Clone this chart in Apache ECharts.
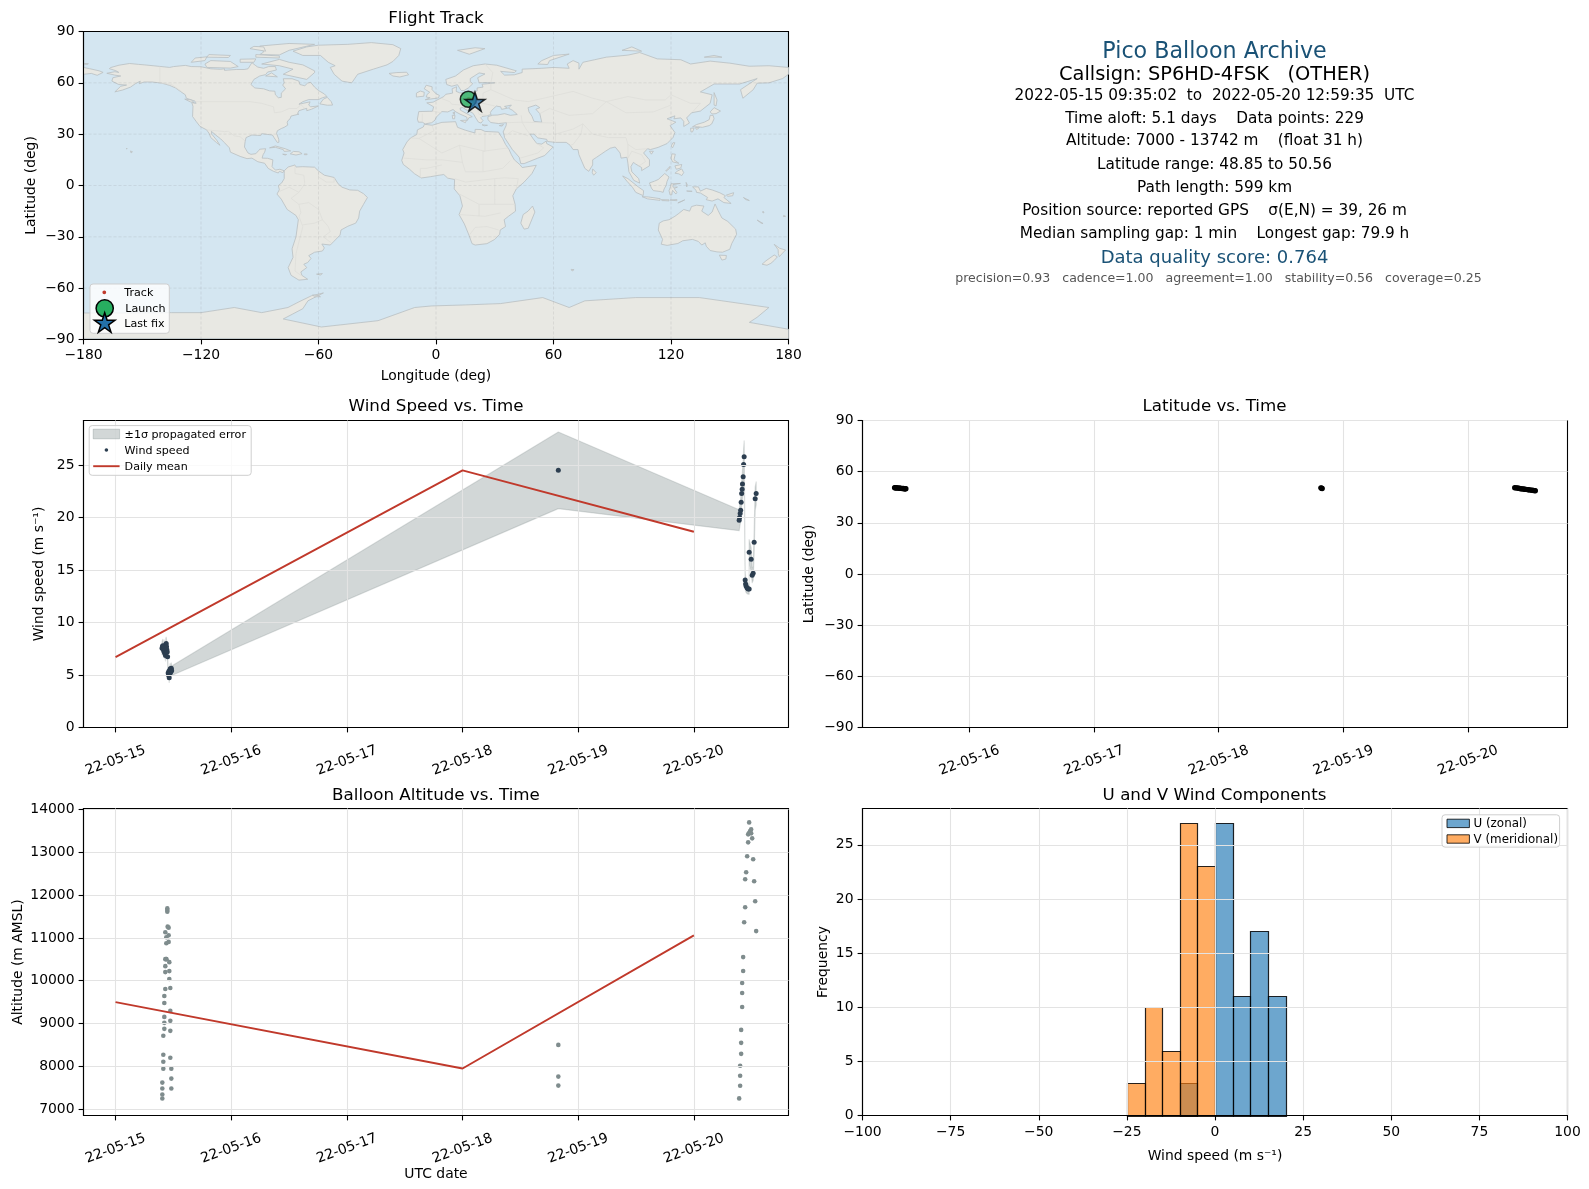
<!DOCTYPE html>
<html><head><meta charset="utf-8">
<style>html,body{margin:0;padding:0;background:#fff}#c{width:1589px;height:1189px}</style>
<script src="https://cdn.jsdelivr.net/npm/echarts@6/dist/echarts.min.js"></script>
</head><body><div id="c"></div>
<script>
// ---------- DATA (days after 2022-05-15 00:00 UTC) ----------
const dateTicks = [0,1,2,3,4,5];
const latDateTicks = [1,2,3,4,5];
const lonTicks = [-180,-120,-60,0,60,120,180];
const degTicks = [-90,-60,-30,0,30,60,90];
const windTicks = [0,5,10,15,20,25];
const altTicks = [7000,8000,9000,10000,11000,12000,13000,14000];
const histXTicks = [-100,-75,-50,-25,0,25,50,75,100];
const histYTicks = [0,5,10,15,20,25];

const windDays = [.402,.405,.408,.411,.414,.417,.42,.423,.426,.429,.432,.435,.438,.441,.444,.447,.45,.455,.458,.461,.464,.467,.47,.473,.476,.479,.482,.485,
 3.828,
 5.3915,5.395,5.4,5.4045,5.4087,5.413,5.4174,5.42,5.426,5.43,5.4346,5.4433,5.447,5.452,5.4606,5.4692,5.4779,5.4779,5.495,5.504,5.5125,5.521,5.53,5.5385];
const windVals = [7.55,7.7,7.8,7.6,7.45,7.3,7.75,7.2,7.05,7.35,6.85,7.9,8.0,7.7,7.4,7.2,6.75,5.2,5.0,5.35,4.75,5.1,5.45,5.6,5.25,5.55,5.65,5.4,
 24.5,
 19.75,20.0,20.4,20.7,21.46,22.3,22.7,23.2,23.9,25.06,25.8,14.05,13.67,13.45,13.3,13.2,13.2,16.7,16.04,14.5,14.7,17.66,21.8,22.3];
const windErr = [.6,.6,.6,.55,.55,.55,.6,.5,.5,.5,.5,.6,.6,.6,.55,.5,.5,.45,.45,.45,.45,.45,.5,.5,.45,.5,.5,.45,
 3.65,
 1,1,1.05,1.1,1.15,1.15,1.2,1.3,1.4,1.45,1.5,.75,.7,.6,.55,.5,.5,1.2,1.1,.7,.7,1,1.1,1.1];
const windMeanDays = [0,3,5];
const windMeanVals = [6.7,24.5,18.65];

const altDays = [.4044,.4044,.4044,.4044,.413,.413,.413,.413,.4217,.4217,.4217,.4217,.4217,.4303,.4303,.4303,.4303,.4303,.4389,.4389,.4389,.4389,.4476,.4476,.4476,.4505,.4591,.4591,.4591,.4649,.4649,.4649,.4735,.4735,.4735,.4735,.4735,.4822,.4822,.4822,
 3.828,3.828,3.828,
 5.3915,5.4,5.4,5.4,5.4087,5.4087,5.4087,5.4174,5.4174,5.4174,5.426,5.426,5.4346,5.4433,5.4433,5.452,5.4606,5.4692,5.4692,5.4779,5.4779,5.4865,5.495,5.495,5.504,5.5125,5.521,5.53,5.5385];
const altVals = [7248,7341,7481,7620,8108,7946,8271,8713,9016,8876,9155,9481,9643,10202,10341,9806,10504,11132,11016,10876,10504,10504,11612,11651,11690,11264,11240,11062,10907,10434,10225,10039,9829,9295,9062,8829,8201,7946,7713,7481,
 8500,7760,7550,
 7250,7545,7779,8012,8291,8548,8851,9387,9713,9946,10226,10552,11368,11718,12371,12534,12907,13233,13420,13458,13699,13497,13443,13536,13326,12837,12324,11858,11159];
const altMeanDays = [0,3,5];
const altMeanVals = [9500,7950,11060];

const latDays = [.40,.405,.41,.415,.42,.43,.44,.445,.45,.46,.47,.475,.48,.485,.49,3.82,3.825,3.83,
 5.375,5.385,5.395,5.405,5.415,5.425,5.435,5.445,5.455,5.465,5.475,5.485,5.495,5.505,5.515,5.525,5.535,5.54];
const latVals = [50.56,50.55,50.5,50.5,50.45,50.4,50.3,50.3,50.2,50.1,50.1,50.05,50,50,49.95,50.5,50.3,50.1,
 50.56,50.5,50.4,50.3,50.15,50.0,49.9,49.8,49.7,49.6,49.5,49.4,49.3,49.2,49.1,49.0,48.9,48.85];

const launchLonLat = [16.5,50.4];
const lastFixLonLat = [19.9,49.0];
const trackLon = [16.5,16.9,17.4,18.0,18.6,19.2,19.9];
const trackLat = [50.4,50.3,50.1,50.0,50.3,49.6,49.0];

const histBinEdgesStart = [-25,-20,-15,-10,-5,0,5,10,15];
const histU = [0,0,0,3,0,27,11,17,11];
const histV = [3,10,6,27,23,0,0,0,0];

const infoTitle = 'Pico Balloon Archive';
const infoCall = 'Callsign: SP6HD-4FSK   (OTHER)';
const infoLines = ['2022-05-15 09:35:02  to  2022-05-20 12:59:35  UTC','Time aloft: 5.1 days    Data points: 229','Altitude: 7000 - 13742 m    (float 31 h)','Latitude range: 48.85 to 50.56','Path length: 599 km','Position source: reported GPS    σ(E,N) = 39, 26 m','Median sampling gap: 1 min    Longest gap: 79.9 h'];
const infoScore = 'Data quality score: 0.764';
const infoSub = 'precision=0.93   cadence=1.00   agreement=1.00   stability=0.56   coverage=0.25';

// coastlines, lon/lat
const landPolys = [
// North America
[[-168.1,65.6],[-164,66.5],[-162,66.1],[-163.5,67.1],[-166.8,68.3],[-166.2,68.9],[-161.9,70.3],[-156.5,71.3],[-152,70.8],[-148,70.4],[-141,69.6],[-136,69],[-134,69.5],[-128,70.2],[-125,69.5],[-120,69.4],[-115,68.2],[-110,67.9],[-108,68.2],[-108,67.3],[-102,67.8],[-98,67.8],[-96,68.2],[-94,71.8],[-92,70],[-91,69.2],[-88,68.5],[-85.5,69.5],[-82,69.5],[-81.5,67.5],[-86,66.3],[-87,64.8],[-90,64],[-93,62],[-94.5,59],[-92.5,57],[-88,56.5],[-85,55.3],[-82.3,55.1],[-82,53],[-80.5,51.3],[-79,51.5],[-79,54],[-76.8,56.5],[-78.3,58.7],[-77.5,60],[-78,62.4],[-73.5,62.4],[-70,61],[-69.5,59],[-67,58.3],[-65.5,59.9],[-64,60.3],[-62,57.5],[-60,55.5],[-57,53.5],[-55.7,52],[-58,51.3],[-60,50.2],[-65,50.2],[-68,49],[-70,47.5],[-64.3,48.9],[-65,47],[-64,46],[-60,46.5],[-63.5,44.6],[-66,43.7],[-66,45.1],[-67,44.8],[-70,43.7],[-70.7,42],[-70,41.7],[-74,40.6],[-74.5,39],[-75.5,38],[-76,37],[-75.7,35.3],[-77.5,34],[-79,33.3],[-81,32],[-81.4,30.5],[-80.3,27],[-80.2,25.3],[-81,25.1],[-82.7,28],[-83.5,29.5],[-85,29.7],[-89,30.3],[-89.5,29.2],[-91,29.3],[-94,29.5],[-97,28],[-97.5,25.5],[-97.8,22.5],[-96,19],[-94.5,18.2],[-92,18.6],[-90.5,20.5],[-90,21.2],[-87,21.5],[-87.5,19.5],[-88.3,18],[-88.8,16],[-86,15.9],[-83.3,15],[-83.7,11],[-82,9],[-79.7,9.5],[-77.5,8.6],[-78.2,7.5],[-80,8.3],[-80.5,7.3],[-83,8.3],[-85.7,10],[-87.5,13],[-91,13.9],[-94,16],[-96.5,15.7],[-100,17],[-105,19.5],[-105.5,22],[-108,25],[-110,27.3],[-112.5,29.5],[-114.7,31.7],[-114.5,30],[-112,26.5],[-110.3,23.5],[-112,25],[-115,28],[-115.8,30.3],[-117.1,32.5],[-120.5,34.5],[-122.5,37.5],[-124.3,40.3],[-124.1,46.3],[-124.7,48.4],[-122.5,48],[-123,49.3],[-127.5,51],[-128,53],[-130.3,54.8],[-133,57],[-136,58.5],[-140,59.8],[-145,60.5],[-149,60.5],[-151.5,59.5],[-151,61],[-153.5,59.5],[-156,57.5],[-160,55.8],[-164,54.7],[-161,58],[-158,58.7],[-162,59],[-165.5,61],[-165,63],[-161,64],[-164,64.5]],
// Greenland
[[-73,78.5],[-66,81],[-60,82],[-45,82.5],[-33,83.5],[-22,82.3],[-18,80],[-19,76],[-22,72.5],[-25,70.5],[-32,68],[-40,65],[-43,60],[-48,61],[-52,65],[-54,69],[-51.5,70],[-55,72],[-59,76],[-68,76]],
// Canadian Arctic and Atlantic islands
[[-62,66],[-66,62],[-72,63.5],[-78,65],[-73,68],[-80,70],[-89,71],[-80,73.7],[-75,72],[-68,70.5],[-62,67]],
[[-117,69],[-105,68.6],[-101,69.5],[-105,72.5],[-115,73],[-118,71]],
[[-125,72],[-118,73],[-117,75.2],[-123,74.5]],
[[-90,76.5],[-80,76.3],[-75,79],[-62,82.5],[-75,83],[-90,81.5],[-88,78]],
[[-92,75],[-80,74.5],[-80,75.7],[-92,76.5]],
[[-100,72],[-93,72],[-92,74],[-100,73.8]],
[[-117,75],[-106,74.8],[-105,76],[-116,76.5]],
[[-95,80],[-87,78.5],[-88,81],[-93,81.3]],
[[-87,64],[-81,63.5],[-84,65.8]],
[[-59.3,47.7],[-55.5,46.9],[-52.8,47],[-53.5,49],[-55.5,51.5],[-57.5,50.5]],
[[-128.3,50.5],[-125,50],[-123.4,48.4],[-125.5,48.9]],
[[-85,22],[-82,23.1],[-77,21.5],[-74.2,20.2],[-77.5,19.9],[-78,21],[-82,22.3]],
[[-74.4,18.5],[-72.8,19.9],[-69.9,19.7],[-68.4,18.6],[-71.5,17.8]],
[[-78.3,18.3],[-76.3,18.1],[-77,17.8]],
[[-67.2,18.5],[-65.7,18.4],[-66,18],[-67.2,18]],
[[-156,20.2],[-155,19.7],[-155.7,19]],
[[-158.2,21.6],[-157.7,21.6],[-157.8,21.3]],
[[-180,69],[-177,68.3],[-172,67],[-170,66.1],[-173,64.4],[-176,65.5],[-180,65]],
[[-180,71.3],[-177.5,71.2],[-178,70.8],[-180,70.9]],
// South America
[[-77.5,8.6],[-75.5,10.8],[-72,12],[-71.5,10.8],[-68,11],[-62,10.7],[-60,8.5],[-57,6],[-52,4.7],[-50,1],[-48,-1],[-44,-2.6],[-40,-2.8],[-37,-4.8],[-35,-7],[-37,-11],[-39,-15],[-39.5,-19],[-41,-22],[-45,-23.8],[-48.5,-26],[-49,-29],[-52,-32.5],[-54,-34.8],[-58.3,-34.2],[-57,-36.5],[-58,-38.3],[-62,-39],[-65,-41],[-63.8,-42.6],[-65.5,-45],[-67.5,-46],[-66,-48],[-69,-50.5],[-68.5,-52.5],[-65.5,-54.8],[-70,-55.3],[-74,-52.5],[-75.5,-48],[-73,-42],[-73.5,-37],[-71.5,-30],[-70.3,-20],[-71.5,-17.5],[-76,-14],[-79,-8],[-81.2,-5],[-80,-2.5],[-80.5,0],[-78.8,1.5],[-77.5,4],[-77.5,7]],
[[-61,-51.8],[-58,-51.5],[-59,-52.3]],
// Africa
[[-5.9,35.8],[-2,35.2],[3,36.9],[10,37.3],[11,34],[15,32.3],[19.9,30.7],[20,32.8],[23,32.7],[25,31.6],[32,31.2],[32.5,30],[34,27.5],[35.5,24],[37.3,21],[38.5,18],[40,15],[43,12],[44,10.5],[51.2,11.8],[49,7],[45,2],[41,-2],[39.2,-6],[40.4,-11],[40.6,-15],[37,-18],[34.8,-20],[35.5,-24],[32.8,-26],[32.5,-28.5],[30,-31.5],[26,-34],[20,-34.8],[18.4,-34],[17,-29.5],[14.5,-22.5],[11.8,-17],[13.5,-12],[12.2,-6],[9.3,-2],[9.5,3.5],[6,4.3],[4,6.4],[1,5.9],[-3,5.1],[-7.5,4.4],[-11,6.9],[-13.5,9.5],[-16.7,12.3],[-17.5,14.7],[-16.3,19],[-17,21],[-14.8,25.5],[-13,27.8],[-9.8,29.8],[-9.5,32.5],[-6.5,34.2]],
[[49.3,-12],[50.5,-15.5],[47.1,-25],[45,-25.5],[43.3,-22],[44.5,-17],[47,-15]],
// Eurasia
[[-9,37],[-9.5,38.8],[-8.8,43.2],[-1.8,43.4],[-1.2,46],[-4.7,48.3],[-1.5,48.7],[1.5,50.5],[4,52],[5,53.3],[8.5,54],[8.2,56.5],[10.5,57.7],[10.3,55],[12,54.2],[14,54],[18.5,54.7],[21,55.2],[21,57],[24,57.5],[23.5,59.2],[28,59.7],[30,60],[25,60.2],[22,60],[21.3,63],[25,65.2],[22,65.8],[17.5,62.5],[17.5,60.7],[18.8,59.5],[16.5,57],[14.3,55.5],[12.8,55.5],[11,58.9],[8,58],[5.5,59],[5,62],[10,64],[14,67.5],[19,70],[25,71],[31,70.3],[41,67],[40,66],[33,66.7],[35,64.5],[40,64.7],[44,66],[44,68],[54,68.5],[60,69],[68,68.5],[67,71],[70,73],[73,71.5],[73,68],[75,72],[81,73.5],[87,75],[98,76.2],[104,77.7],[113,74],[125,73.5],[130,71],[140,72.7],[150,71.5],[160,69.7],[170,70],[180,69],[180,65],[177,62.5],[170,60],[164,59.8],[162,56],[156.7,51],[155.5,56],[164,62.5],[155,59.3],[142,59.3],[135,54.7],[141,53],[140,48],[135,43.5],[130.5,42.5],[128,39.5],[129.4,36.5],[126.5,34.5],[126.5,37.5],[125,39.5],[121.5,39],[122,40.7],[118,39],[122.5,37],[119.5,35],[122,31],[121,28],[118,24.5],[113.5,22.3],[109.5,21],[108,21.5],[106,19],[109,15],[109,11.5],[105,8.7],[105,10.5],[102,12.5],[100.8,13.5],[99.5,11],[100,8],[103.5,4],[104,1.4],[101,3],[98.5,8],[98,13],[97.5,16.5],[94.5,16],[94,19],[91.5,22.5],[89,21.8],[86.5,20],[82,16.5],[80,15],[80,12],[78,8.3],[76,10],[73,18],[72.5,21],[70,21],[68.5,23.5],[66.5,25.2],[61,25.2],[57,25.7],[56.5,27],[52,27.8],[50,30],[48,30],[50,26.7],[51.5,24.5],[54,24.2],[56.3,26],[56.5,24.5],[59.8,22.5],[55.5,17.5],[52,16],[45,12.8],[43.3,12.8],[42.5,16.5],[39,21],[35,28],[34.8,29.5],[34.3,31.3],[35.8,35],[36,36.7],[32,36.2],[28,36.8],[26.5,38.5],[26.5,40.2],[29,41.1],[31.5,41.2],[35,42],[38,41],[41.5,41.5],[39,44],[37,45.2],[38.5,47],[35,46.2],[36.5,45.2],[33.5,44.5],[33,46],[30.8,46.4],[28.5,44],[27.7,42.5],[28.2,41.5],[26.2,40.8],[23.5,40.3],[22.8,39.5],[24,38],[23,36.5],[21.7,37],[20,40],[19.4,41.5],[18.5,42.5],[15,44.5],[13.7,45.6],[12.3,45.3],[12.5,44],[16,41.8],[18.5,40.2],[16.8,39.6],[16,38],[15.7,40],[12.3,41.7],[10.2,43],[8.7,44.4],[6,43],[3,43.2],[0,39.8],[-0.5,38.2],[-2.2,36.7],[-5.5,36],[-7,37]],
// European, Arctic and Asian islands
[[-5.5,50.1],[1.3,51.2],[1.7,52.7],[0,53.6],[-2,56],[-2,57.7],[-5,58.6],[-6,56.5],[-3.2,54.5],[-4.5,53.3],[-5,51.7],[-3,51.3]],
[[-10,51.7],[-6.2,52.2],[-6,54.5],[-8,55.2],[-10,54]],
[[-24,65.5],[-22,64],[-18.5,63.4],[-14,64.7],[-15,66.2],[-20,66]],
[[11,79],[17,76.7],[25,80],[20,80.5]],
[[52,71],[57,70.7],[58,73],[68,76.8],[60,76],[54,73]],
[[95,79],[105,78.5],[100,81]],
[[137,75],[146,75],[142,76]],
[[8.3,41],[9.7,41],[9.5,39],[8.5,39]],
[[8.6,42.5],[9.5,43],[9.4,41.4]],
[[12.5,38],[15.6,38.2],[15,36.7]],
[[23.5,35.5],[26.3,35.2],[24.7,34.9]],
[[32.3,35],[34.5,35.6],[33.7,34.7]],
[[142,54.3],[143.5,50],[143,46.5],[142,47],[142,52]],
[[140,43],[142,45.5],[145.3,43.5],[143,42],[141,41.8]],
[[131,34.3],[133,35.6],[137,37],[139.5,38.5],[140,41],[141.5,41],[142,39],[140.8,36],[139.5,35],[136,34],[133.5,34.3]],
[[130,33.5],[131.8,33.5],[131,31.3],[130.2,31.3]],
[[132.5,33.8],[134.5,34],[134,33.3],[133,32.8]],
[[121,25],[122,25],[120.8,22],[120.1,23]],
[[109,20],[111,20],[110,18.3]],
[[80,9.7],[81.8,7.5],[80.5,6],[79.8,7.5]],
[[95.3,5.6],[98,4],[103.5,-1],[106,-3],[105.8,-5.9],[102,-4],[100.3,-1],[97.5,2.5]],
[[105.2,-6.5],[108.5,-6.7],[114.5,-7.7],[114.4,-8.7],[108,-7.8]],
[[115,-8.3],[119,-8.4],[119,-9],[115.5,-8.8]],
[[119.5,-8.5],[123,-8.2],[123,-8.9]],
[[123.5,-10.2],[127,-8.4],[125,-9.5]],
[[109,1.5],[111.5,2.5],[113.5,3.5],[116.8,7],[119,5],[118,2.5],[117.5,0],[116.5,-2],[116,-4],[114.5,-3.5],[111,-3],[110,-1.5]],
[[119.5,-5.5],[120.4,-5.5],[120.8,-2.8],[122.5,-5],[123,-4],[121.6,-1.8],[123.3,-0.9],[121,-1],[121,0.5],[124.8,1.2],[120,1],[119.8,-0.5],[119,-3]],
[[120.5,18.5],[122.2,18.3],[121.5,15],[124,13],[120.8,13.8],[120,16]],
[[122,7.2],[123.5,8.6],[125.5,9.7],[126.5,7.5],[125.5,5.8],[124,6.8]],
[[122,11.5],[125.5,12.3],[125,10.2],[122.7,9.5]],
[[117.3,8.5],[119.5,11.2],[119.3,10],[117.5,8.3]],
[[131,-0.8],[134,-0.8],[135,-3.3],[138,-1.7],[141,-2.6],[145,-4.3],[147.8,-6],[147,-7],[150.7,-10.5],[147,-10],[144,-7.8],[141,-9.1],[138,-8.3],[138.7,-7],[135,-4.4],[133,-4],[132.8,-2.8]],
[[148.3,-5.6],[152,-4.2],[151.5,-6],[149,-6.3]],
[[127.7,1.8],[128.5,0],[128,-0.8]],
[[128,-3.2],[130.8,-3.4],[129,-3.4]],
[[157,-7],[160,-8.8],[158,-8.2]],
[[167,-15],[167.5,-16],[166.8,-15.8]],
[[164,-20.2],[167,-22.2],[166,-22]],
[[177.5,-17.5],[178.5,-18],[177.4,-18.2]],
// Australia and New Zealand
[[114,-22],[116,-20.7],[119,-20],[122,-18],[124,-16.3],[126.5,-14],[129.5,-15],[130.5,-12.3],[133,-11.5],[136.8,-12],[135.7,-15],[139,-17.5],[141,-15.5],[142.5,-10.8],[144,-14.5],[146,-19],[149,-21],[153,-25.5],[153.5,-28.5],[151,-34],[150,-37.3],[146.3,-39],[143.5,-38.8],[140,-38],[138,-35.5],[137.5,-33.5],[135.7,-34.8],[134,-32.7],[131,-31.5],[126,-32.3],[123.5,-33.9],[118,-35],[115,-34.3],[115.7,-31.5],[113.5,-26]],
[[144.7,-40.7],[148.3,-40.9],[148,-43],[146,-43.6]],
[[172.7,-34.4],[175.5,-36.7],[178.5,-37.7],[177,-39.5],[175.3,-41.6],[174.8,-39.8],[174.7,-37.5]],
[[172.7,-40.6],[174.3,-41.7],[172.8,-43.7],[171,-45.5],[169,-46.6],[166.5,-46],[168.5,-44]],
[[69,-49],[70.5,-49.2],[69.5,-50]],
// Antarctica
[[-180,-89.4],[-180,-74.5],[-160,-74.5],[-135,-74.3],[-120,-74.3],[-103,-71.3],[-89,-74.3],[-75.6,-71.3],[-70,-68],[-63.7,-64.5],[-57.5,-62.8],[-65.4,-67.4],[-68,-72],[-78,-78],[-58.5,-82.7],[-29.6,-79],[-10.9,-71.3],[-2.4,-70.4],[15,-69.8],[33,-69],[54.5,-65.5],[68,-71.3],[76,-67.4],[102,-65.5],[134.5,-65.5],[170,-71.3],[164,-77],[160,-80],[180,-84],[180,-89.4]],
[[-63,-64],[-60,-64.3],[-59,-65],[-62,-65]]
];
const waterPolys = [
[[47,45.5],[51,47],[53,45.5],[51,44.5],[53,42],[54,37],[50,37.5],[49,40.5],[47.5,43]]
];
const borderLines = [
[[-141,69.6],[-141,60],[-135,59],[-130,55]],
[[-123,49],[-95,49],[-89,48],[-83,46],[-82.5,42.5],[-79,43],[-75,45],[-71,45],[-69,47.3],[-67,45]],
[[-117,32.5],[-108,31.5],[-106,31.7],[-103,29],[-100,28.5],[-97.5,26]],
[[-72,12],[-72,7],[-67.5,6],[-67,1],[-70,-4],[-74,-7.5],[-70,-11],[-65,-10],[-60,-14],[-58,-20],[-55,-24],[-54,-27],[-57.5,-30],[-53.5,-33.5]],
[[-70,-18],[-68,-24],[-70,-33],[-71.5,-40],[-72,-50],[-69,-52.5]],
[[-60,8.5],[-60,5],[-56,2],[-52,2],[-52,4.7]],
[[-80,-3.5],[-75,-1],[-70,-4]],
[[-58,-20],[-62,-22],[-68,-23]],
[[-70,-11],[-69,-16],[-70,-18]],
[[-13,27.8],[-8.7,27.5],[-1,32],[-2,35]],
[[-8.7,27.5],[3,19],[12,23.5],[25,20],[25,31.6]],
[[24,20],[36.9,22]],
[[-16.5,16],[-5,15],[3,15],[13.5,13.5],[15,8],[24,8],[34,10],[38,14.5]],
[[9.5,4],[15,2],[30,4],[35,4.5],[42,4],[41,-2]],
[[12,-5],[22,-11],[30,-11],[40,-11]],
[[12,-17],[25,-18],[33,-16]],
[[17,-29],[20,-24.5],[26,-24],[32,-26]],
[[-8,4.4],[-8,10],[-5,10],[3,12]],
[[30,4],[30,-8],[30,-11]],
[[22,-11],[22,-18]],
[[12,23.5],[13.5,13.5]],
[[24,20],[24,8]],
[[28,56],[40,50],[47,49],[55,51],[70,55],[80,51],[87,49],[98,52],[107,50],[117,50],[120,53],[130,48],[135,48],[131,43]],
[[53,42],[58,45],[68,41],[80,42],[87,49]],
[[75,36],[80,30],[88,28],[97,28],[98,24],[102,21],[108,21.5]],
[[44,37],[46,33],[48,30]],
[[44,37],[61,36.5],[61,25.2]],
[[61,30],[70,33],[75,36]],
[[75,36],[74,30],[70,24],[68.5,23.5]],
[[87,49],[97,42.5],[111,43],[120,47]],
[[36,29.5],[39,32],[47,29]],
[[43,16],[52,19],[55,22],[51.5,24.5]],
[[98,24],[98,16],[100,20],[105,18],[107,14],[103,11]],
[[2.5,51],[7,49],[8,47.5],[13,47],[17,48],[24,48],[30,46.5]],
[[14,54],[15,51],[24,50.5],[24,54],[28,56],[28,59.7]],
[[25,71],[29,66],[28,60]],
[[-1.8,43.4],[3,42.5]],
[[-7,37],[-7,42]],
[[13.7,45.6],[21,45],[22,41.5],[26.2,41]],
[[36,36.7],[44,37],[43.5,41]]
];

// ---------- HELPERS ----------
const DAY = 864e5, T0 = Date.UTC(2022,4,15);
const ms = d => T0 + d*DAY;
const pairs = (xs,ys) => xs.map((x,i)=>[ms(x),ys[i]]);
const fmtDate = v => new Date(v).toISOString().slice(2,10);
const fmtNum = v => String(v).replace('-','\u2212');
const FONT = '"DejaVu Sans"';
const INK = '#000';
const GRID = '#e3e3e3';
const grids = [
 {left:83.5,top:31.5,width:705,height:308},
 {left:83.5,top:420.5,width:705,height:307},
 {left:862.5,top:420.5,width:705,height:307},
 {left:83.5,top:808.5,width:705,height:307},
 {left:862.5,top:808.5,width:705,height:307}
].map((g,i)=>Object.assign(g,{show:true,borderColor:INK,borderWidth:1.1,backgroundColor:i===0?'#d4e6f1':'transparent'}));

function axis(gi,opt){
 const ticks=opt.ticks;
 return {
  gridIndex:gi,type:'value',min:opt.min,max:opt.max,name:opt.name,nameLocation:'middle',nameGap:opt.gap,z:5,
  nameTextStyle:{fontFamily:FONT,fontSize:13.9,color:INK},
  axisLine:{show:true,onZero:false,lineStyle:{color:INK,width:1.1}},
  axisTick:{show:true,length:4.9,customValues:ticks,lineStyle:{color:INK,width:1.1}},
  splitLine:{show:!opt.noSplit,lineStyle:{color:GRID,width:1.1}},
  axisLabel:Object.assign({show:true,customValues:ticks,formatter:fmtNum,fontFamily:FONT,fontSize:13.9,color:INK,margin:opt.margin||9,hideOverlap:false,showMinLabel:true,showMaxLabel:true},opt.label||{})
 };
}
const dateLabel={formatter:v=>fmtDate(v),rotate:20,align:'center',verticalAlign:'middle',margin:33};
const yLabel={padding:[5,0,0,0]};

const xAxes=[
 axis(0,{ticks:lonTicks,min:-180,max:180,name:'Longitude (deg)',gap:29.5,noSplit:true,margin:9}),
 axis(1,{ticks:dateTicks.map(ms),min:ms(-.277),max:ms(5.818),label:dateLabel}),
 axis(2,{ticks:latDateTicks.map(ms),min:ms(.1422),max:ms(5.7985),label:dateLabel}),
 axis(3,{ticks:dateTicks.map(ms),min:ms(-.277),max:ms(5.818),name:'UTC date',gap:49,label:dateLabel}),
 axis(4,{ticks:histXTicks,min:-100,max:100,name:'Wind speed (m s⁻¹)',gap:34,margin:9.5})
];
const yAxes=[
 axis(0,{ticks:degTicks,min:-90,max:90,name:'Latitude (deg)',gap:45,noSplit:true,label:yLabel}),
 axis(1,{ticks:windTicks,min:0,max:29.25,name:'Wind speed (m s⁻¹)',gap:37,label:yLabel}),
 axis(2,{ticks:degTicks,min:-90,max:90,name:'Latitude (deg)',gap:46,label:yLabel}),
 axis(3,{ticks:altTicks,min:6851,max:14024,name:'Altitude (m AMSL)',gap:58.5,label:yLabel}),
 axis(4,{ticks:histYTicks,min:0,max:28.35,name:'Frequency',gap:32,label:yLabel})
];

const polySeries=(name,polys,style)=>({
 type:'custom',name,xAxisIndex:0,yAxisIndex:0,coordinateSystem:'cartesian2d',clip:true,silent:true,z:2,
 data:polys.map((p,i)=>[i]),
 renderItem:(params,api)=>({type:'polygon',shape:{points:polys[api.value(0)].map(p=>api.coord(p))},style})
});
const lineSeries=(name,lines,stroke,width,dash,z)=>({
 type:'custom',name,xAxisIndex:0,yAxisIndex:0,coordinateSystem:'cartesian2d',clip:true,silent:true,z,
 data:lines.map((p,i)=>[i]),
 renderItem:(params,api)=>({type:'polyline',shape:{points:lines[api.value(0)].map(p=>api.coord(p))},style:{fill:'none',stroke,lineWidth:width,lineDash:dash||null}})
});
const graticule=[...lonTicks.slice(1,-1).map(l=>[[l,-90],[l,90]]),...degTicks.slice(1,-1).map(l=>[[-180,l],[180,l]])];

const bandSeries={
 type:'custom',name:'±1σ propagated error',xAxisIndex:1,yAxisIndex:1,coordinateSystem:'cartesian2d',clip:true,silent:true,z:2,
 data:[[0]],
 renderItem:(params,api)=>{
  const up=windDays.map((d,i)=>api.coord([ms(d),windVals[i]+windErr[i]]));
  const lo=windDays.map((d,i)=>api.coord([ms(d),windVals[i]-windErr[i]])).reverse();
  return {type:'polygon',shape:{points:up.concat(lo)},style:{fill:'rgba(127,140,141,0.35)',stroke:'rgba(127,140,141,0.25)',lineWidth:1.2,lineJoin:'round'}};
 }
};
const histSeries=(name,vals,rgba)=>({
 type:'custom',name,xAxisIndex:4,yAxisIndex:4,coordinateSystem:'cartesian2d',silent:true,z:3,
 data:histBinEdgesStart.map((s,i)=>[s,vals[i]]).filter(d=>d[1]>0),
 renderItem:(params,api)=>{
  const a=api.coord([api.value(0),api.value(1)]),b=api.coord([api.value(0)+5,0]);
  const x0=Math.round(a[0])+.5,x1=Math.round(b[0])+.5,y0=Math.round(a[1])+.5,y1=Math.round(b[1])+.5;
  return {type:'rect',shape:{x:x0,y:y0,width:x1-x0,height:y1-y0},style:{fill:rgba,stroke:'rgba(0,0,0,0.85)',lineWidth:1.2}};
 }
});
const STAR='path://M0,-100L22.45,-30.9L95.1,-30.9L36.3,11.8L58.8,80.9L0,38.2L-58.8,80.9L-36.3,11.8L-95.1,-30.9L-22.45,-30.9Z';

const series=[
 polySeries('Land',landPolys,{fill:'#e8e8e3',stroke:'#b9bfc1',lineWidth:.8}),
 polySeries('Caspian',waterPolys,{fill:'#d4e6f1',stroke:'#b9bfc1',lineWidth:.8}),
 lineSeries('Borders',borderLines,'#dcdcd8',.7,null,3),
 lineSeries('Graticule',graticule,'rgba(120,120,120,0.18)',.8,[3,2],4),
 {type:'scatter',name:'Track',xAxisIndex:0,yAxisIndex:0,symbolSize:4,itemStyle:{color:'#c0392b'},z:5,silent:true,data:trackLon.map((l,i)=>[l,trackLat[i]])},
 {type:'scatter',name:'Launch',xAxisIndex:0,yAxisIndex:0,symbolSize:16,itemStyle:{color:'#27ae60',borderColor:'#000',borderWidth:1.5},z:6,silent:true,data:[launchLonLat]},
 {type:'scatter',name:'Last fix',xAxisIndex:0,yAxisIndex:0,symbol:STAR,symbolSize:[20,19],itemStyle:{color:'#2471a8',borderColor:'#000',borderWidth:1.5},z:7,silent:true,data:[lastFixLonLat]},

 bandSeries,
 {type:'scatter',name:'Wind speed',xAxisIndex:1,yAxisIndex:1,symbolSize:5,itemStyle:{color:'#2c3e50',opacity:1},z:4,silent:true,data:pairs(windDays,windVals)},
 {type:'line',name:'Daily mean',xAxisIndex:1,yAxisIndex:1,showSymbol:false,symbol:'none',lineStyle:{color:'#c0392b',width:1.9},z:5,silent:true,data:pairs(windMeanDays,windMeanVals)},

 {type:'scatter',name:'Latitude',xAxisIndex:2,yAxisIndex:2,symbolSize:5.4,itemStyle:{color:'#000',opacity:1},z:4,silent:true,data:pairs(latDays,latVals)},

 {type:'scatter',name:'Altitude',xAxisIndex:3,yAxisIndex:3,symbolSize:4.6,itemStyle:{color:'#7f8c8d',opacity:1},z:4,silent:true,data:pairs(altDays,altVals)},
 {type:'line',name:'Daily mean altitude',xAxisIndex:3,yAxisIndex:3,showSymbol:false,symbol:'none',lineStyle:{color:'#c0392b',width:1.9},z:5,silent:true,data:pairs(altMeanDays,altMeanVals)},

 histSeries('U (zonal)',histU,'rgba(31,119,180,0.65)'),
 histSeries('V (meridional)',histV,'rgba(255,127,14,0.65)')
];

// ---------- TEXT ----------
const ttl=(text,x,y,size,color,weight)=>({text,left:x,top:y,padding:0,textAlign:'center',textVerticalAlign:'middle',
 textStyle:{fontFamily:FONT,fontSize:size,fontWeight:weight||'normal',color:color||INK}});
const lineYs=[95.7,118.6,141,164.7,188.5,210.8,234];
const titles=[
 ttl('Flight Track',436,19,16.7),
 ttl('Wind Speed vs. Time',436,407,16.7),
 ttl('Latitude vs. Time',1214.5,407,16.7),
 ttl('Balloon Altitude vs. Time',436,796.1,16.7),
 ttl('U and V Wind Components',1214.5,796.1,16.7),
 ttl(infoTitle,1214.5,51.8,22.2,'#1a5276'),
 ttl(infoCall,1214.5,74.8,19.4),
 ...infoLines.map((t,i)=>ttl(t,1214.5,lineYs[i],15.3)),
 ttl(infoScore,1214.5,258.4,18,'#1a5276'),
 ttl(infoSub,1218.5,278.6,12.55,'#555555')
];

// ---------- LEGENDS ----------
const lgText=(t,x,y,size)=>({type:'text',z:60,style:{text:t,x,y:y+1,fill:'#000',font:(size||11.1)+'px "DejaVu Sans"',verticalAlign:'middle'}});
const lgBox=(x,y,w,h)=>({type:'rect',z:55,shape:{x,y,width:w,height:h,r:3},style:{fill:'rgba(255,255,255,0.8)',stroke:'#cfcfcf',lineWidth:1}});
const starPts=(cx,cy,r)=>{const p=[];for(let i=0;i<10;i++){const a=-Math.PI/2+i*Math.PI/5,q=i%2?r*.382:r;p.push([cx+q*Math.cos(a),cy+q*Math.sin(a)]);}return p;};
const lgRect=(x,y,w,h,fill,stroke)=>({type:'rect',z:58,shape:{x,y,width:w,height:h},style:{fill,stroke,lineWidth:1}});
const graphics=[
 lgBox(90,284,79.3,49.3),
 {type:'circle',z:58,shape:{cx:104.3,cy:292.3,r:1.9},style:{fill:'#c0392b'}},
 {type:'circle',z:58,shape:{cx:104.7,cy:308.3,r:8.6},style:{fill:'#27ae60',stroke:'#000',lineWidth:1.5}},
 {type:'polygon',z:59,shape:{points:starPts(104.7,323.6,10.8)},style:{fill:'#2471a8',stroke:'#000',lineWidth:1.5}},
 lgText('Track',124.3,292.3),lgText('Launch',125.3,308.3),lgText('Last fix',124.3,323.3),

 lgBox(89.2,425.6,162,49.7),
 lgRect(93.2,429.2,26.4,9.6,'rgba(127,140,141,0.35)','rgba(127,140,141,0.35)'),
 {type:'circle',z:58,shape:{cx:106.4,cy:450,r:1.8},style:{fill:'#2c3e50'}},
 {type:'line',z:58,shape:{x1:93.2,y1:466.2,x2:119.6,y2:466.2},style:{stroke:'#c0392b',lineWidth:1.9}},
 lgText('±1σ propagated error',124.6,433.9),lgText('Wind speed',124.6,450),lgText('Daily mean',124.6,466.2),

 lgBox(1442,814.8,117.6,32.3),
 lgRect(1447,819.2,22.4,8.4,'rgba(31,119,180,0.65)','rgba(0,0,0,0.8)'),
 lgRect(1447,834.8,22.4,8.4,'rgba(255,127,14,0.65)','rgba(0,0,0,0.8)'),
 lgText('U (zonal)',1473.5,823.4,11.9),lgText('V (meridional)',1473.5,839,11.9)
];

const chart=echarts.init(document.getElementById('c'),null,{renderer:'canvas',width:1589,height:1189});
chart.setOption({animation:false,backgroundColor:'#fff',title:titles,grid:grids,xAxis:xAxes,yAxis:yAxes,series,graphic:{elements:graphics}});
</script></body></html>
